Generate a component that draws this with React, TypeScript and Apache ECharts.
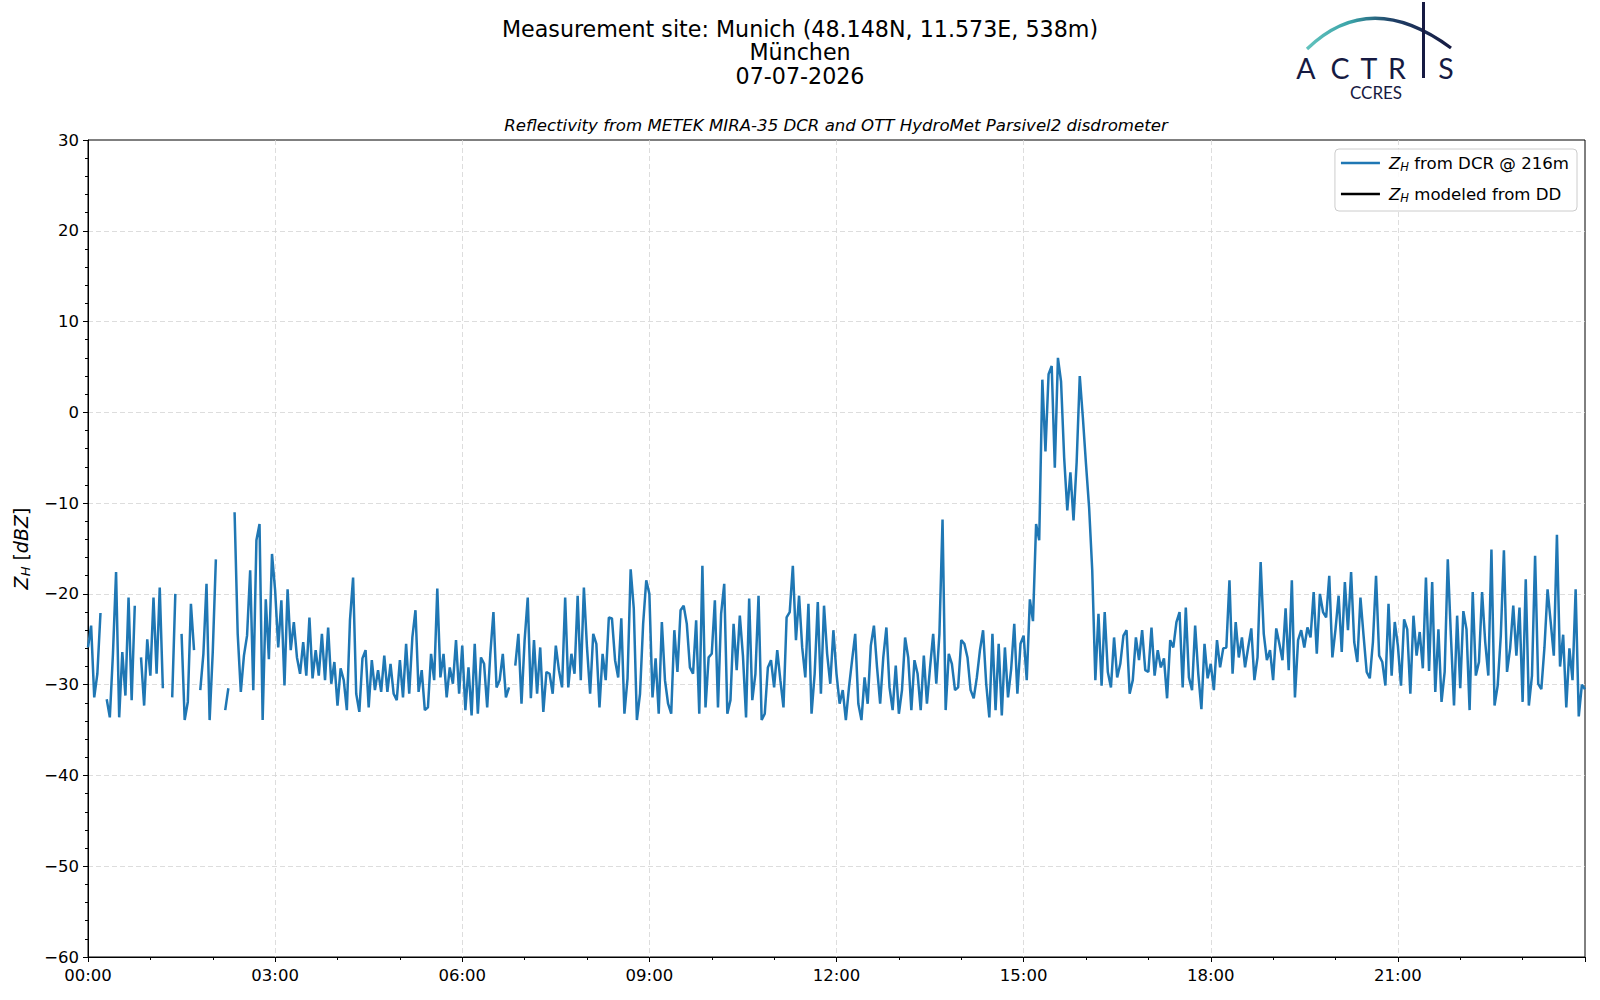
import React, { useEffect, useRef } from "react";
import * as echarts from "echarts";

// ---- data (3-minute sampling, hours since 00:00 UTC) ----
const STEP_HOURS = 0.05;

const titleLines = ["Measurement site: Munich (48.148N, 11.573E, 538m)", "München", "07-07-2026"];
const subTitle = "Reflectivity from METEK MIRA-35 DCR and OTT HydroMet Parsivel2 disdrometer";
const seriesNames = ["ZH from DCR @ 216m", "ZH modeled from DD"];
const legendLabels = ["{g| }{z|Z}{s|H}{t| from DCR @ 216m}", "{g| }{z|Z}{s|H}{t| modeled from DD}"];
const xTickHours = [0, 3, 6, 9, 12, 15, 18, 21];

// Z_H from DCR, 00:00 - 06:00
const zhDcr00to06: (number | null)[] = [
  -25.9, -23.5, -31.4, -28.8, -22.1, null, -31.6, -33.6, -26.6, -17.6, -33.6, -26.4, -31.2, -20.4, -31.7, -21.3, null, -27.0, -32.3, -25.0,
  -29.0, -20.4, -28.8, -19.3, -30.4, null, null, -31.4, -20.0, null, -24.4, -33.9, -31.9, -21.1, -26.2, null, -30.6, -26.6, -18.9, -33.9,
  -26.4, -16.2, null, null, -32.8, -30.4, null, -11.0, -24.4, -30.8, -26.8, -24.6, -17.4, -30.6, -14.1, -12.3, -33.9, -20.6, -27.2, -15.6,
  -19.6, -25.9, -20.7, -30.1, -19.5, -26.2, -23.1, -27.0, -28.8, -25.3, -29.0, -22.6, -29.3, -26.2, -29.0, -24.4, -29.5, -23.7, -29.9, -27.5,
  -32.3, -28.2, -29.5, -32.8, -22.9, -18.2, -31.0, -33.0, -27.1, -26.2, -32.5, -27.3, -30.6, -28.4, -30.8, -26.8, -30.8, -27.7, -31.0, -31.7,
  -27.3, -31.4, -25.5, -31.0, -24.8, -21.8, -30.8, -28.4, -32.8, -32.5, -26.6, -29.5, -19.4, -29.2, -26.6, -31.4, -28.1, -29.9, -25.1, -31.0,
];

// Z_H from DCR, 06:00 - 12:00
const zhDcr06to12: (number | null)[] = [
  -25.7, -32.8, -28.1, -33.4, -25.5, -33.2, -27.0, -27.7, -32.5, -26.6, -22.0, -30.3, -29.5, -26.6, -31.4, -30.3, null, -27.9, -24.4, -32.1,
  -25.1, -20.4, -31.5, -25.1, -31.0, -25.9, -33.0, -28.6, -28.8, -31.0, -25.7, -28.4, -30.3, -20.4, -30.3, -26.6, -28.8, -20.2, -29.5, -19.3,
  -25.9, -31.0, -24.4, -25.5, -32.5, -26.6, -29.5, -22.6, -22.7, -27.3, -29.2, -22.7, -33.2, -29.3, -17.3, -21.6, -33.9, -31.0, -23.3, -18.5,
  -20.0, -31.4, -27.1, -33.2, -23.1, -29.5, -32.1, -33.2, -24.0, -28.6, -21.8, -21.3, -23.3, -28.1, -28.8, -22.9, -33.2, -16.9, -32.5, -27.0,
  -26.6, -20.7, -32.5, -22.2, -18.9, -33.2, -31.7, -23.3, -28.4, -22.4, -26.8, -33.6, -20.5, -31.7, -28.8, -20.2, -33.9, -33.2, -28.1, -27.3,
  -30.3, -26.2, -29.5, -32.5, -22.6, -22.0, -16.9, -25.1, -20.2, -25.9, -29.2, -21.1, -33.2, -28.8, -20.9, -31.0, -21.3, -26.6, -29.9, -24.0,
];

// Z_H from DCR, 12:00 - 18:00
const zhDcr12to18: (number | null)[] = [
  -28.8, -32.1, -30.6, -33.9, -30.3, -27.3, -24.4, -32.1, -33.9, -29.2, -32.1, -25.7, -23.5, -28.1, -32.1, -27.0, -23.7, -30.3, -32.8, -27.9,
  -33.2, -30.6, -24.8, -27.0, -32.8, -27.3, -28.8, -32.8, -26.8, -32.1, -28.1, -24.4, -29.9, -24.4, -11.8, -32.8, -26.6, -27.7, -30.6, -30.3,
  -25.1, -25.5, -27.0, -30.6, -31.5, -29.2, -26.2, -24.0, -29.9, -33.6, -24.4, -32.8, -25.5, -33.4, -25.9, -31.4, -28.3, -23.3, -31.0, -25.5,
  -24.6, -29.5, -20.6, -23.0, -12.3, -14.1, 3.6, -4.3, 4.2, 5.1, -6.1, 6.0, 3.4, -5.0, -10.8, -6.6, -11.9, -5.5, 4.0, -0.6,
  -5.7, -10.5, -17.4, -29.5, -22.2, -30.1, -22.0, -28.6, -30.3, -24.8, -29.2, -27.7, -24.6, -24.0, -31.0, -29.5, -24.8, -27.3, -24.0, -28.4,
  -28.6, -23.7, -29.0, -26.2, -28.1, -27.1, -31.5, -25.1, -25.9, -23.1, -22.0, -30.3, -21.5, -29.2, -30.6, -23.5, -28.8, -32.7, -25.5, -29.3,
];

// Z_H from DCR, 18:00 - 24:00
const zhDcr18to24: (number | null)[] = [
  -27.7, -30.6, -25.1, -28.1, -26.0, -25.9, -18.5, -28.8, -23.1, -27.0, -24.8, -28.1, -25.9, -23.8, -29.5, -27.0, -16.5, -24.4, -27.3, -26.2,
  -29.5, -23.8, -25.5, -27.3, -21.6, -28.4, -18.5, -31.4, -25.1, -24.0, -25.9, -23.7, -24.8, -19.8, -26.6, -20.0, -22.0, -22.6, -18.0, -27.0,
  -23.9, -20.2, -26.4, -18.7, -24.0, -17.6, -25.3, -27.5, -20.4, -24.6, -28.6, -29.3, -25.3, -18.0, -26.8, -27.5, -30.1, -21.1, -29.0, -23.1,
  -25.7, -30.1, -22.8, -23.9, -31.0, -22.4, -26.8, -24.2, -28.2, -18.2, -28.5, -18.7, -30.8, -23.9, -31.9, -28.6, -16.2, -24.6, -32.3, -22.4,
  -30.4, -21.9, -23.9, -32.8, -19.8, -29.0, -27.5, -19.8, -25.3, -29.0, -15.1, -32.3, -30.1, -24.6, -15.2, -28.6, -26.0, -21.3, -26.8, -21.5,
  -31.9, -18.4, -32.3, -29.0, -15.8, -29.9, -30.5, -25.9, -19.5, -23.1, -26.8, -13.5, -28.0, -24.5, -32.5, -26.0, -29.5, -19.5, -33.5, -30.0,
  -30.5,
];

// Z_H modeled from disdrometer: no valid data on this day
const zhModeledDd: [number, number][] = [];

const FONT = "DejaVu Sans";

function fmtTick(v: number): string {
  if (v < 0) return "\u2212" + Math.abs(v);
  return String(v);
}

export default function App() {
  const ref = useRef<HTMLDivElement>(null);
  useEffect(() => {
    if (!ref.current) return;
    const chart = echarts.init(ref.current, undefined, { renderer: "svg" });
    const values = [...zhDcr00to06, ...zhDcr06to12, ...zhDcr12to18, ...zhDcr18to24];
    const dcrData = values.map((v, i) => [Math.round(i * STEP_HOURS * 1000) / 1000, v === null ? "-" : v]);

    const navy = "#161a42";
    const logoLetters = [
      { ch: "A", x: 1306 },
      { ch: "C", x: 1340 },
      { ch: "T", x: 1369 },
      { ch: "R", x: 1397 },
      { ch: "S", x: 1446 },
    ];

    const gridLine = { show: true, showMinLine: false, showMaxLine: false, lineStyle: { color: "#d4d4d4", type: [5, 3], width: 0.8 } };

    const option: any = {
      animation: false,
      backgroundColor: "#ffffff",
      textStyle: { fontFamily: FONT },
      title: [
        {
          text: titleLines.join("\n"),
          left: "center",
          top: 17,
          padding: 0,
          textStyle: { fontSize: 22.2, fontWeight: "normal", color: "#000", lineHeight: 23.5, fontFamily: FONT },
        },
        {
          text: subTitle,
          left: 836,
          textAlign: "center",
          top: 116,
          padding: 0,
          textStyle: { fontSize: 16.6, fontWeight: "normal", fontStyle: "italic", color: "#000", lineHeight: 19, fontFamily: FONT },
        },
      ],
      grid: {
        left: 88,
        right: 15,
        top: 140,
        bottom: 43,
        show: true,
        borderColor: "#000",
        borderWidth: 1,
        backgroundColor: "transparent",
      },
      legend: {
        orient: "vertical",
        right: 23,
        top: 149,
        padding: [4, 8, 7, 6],
        itemWidth: 39,
        itemHeight: 2.5,
        itemGap: 11,
        icon: "rect",
        selectedMode: false,
        borderColor: "#cccccc",
        borderWidth: 1,
        borderRadius: 4,
        backgroundColor: "rgba(255,255,255,0.85)",
        data: seriesNames,
        formatter: (name: string) => legendLabels[seriesNames.indexOf(name)],
        textStyle: {
          fontSize: 16.6,
          color: "#000",
          lineHeight: 20,
          fontFamily: FONT,
          rich: {
            g: { fontSize: 8, width: 4, lineHeight: 20 },
            z: { fontSize: 16.6, fontStyle: "italic", fontFamily: FONT, color: "#000", lineHeight: 20 },
            s: { fontSize: 11.5, fontStyle: "italic", fontFamily: FONT, color: "#000", lineHeight: 13, verticalAlign: "bottom" },
            t: { fontSize: 16.6, fontFamily: FONT, color: "#000", lineHeight: 20 },
          },
        },
      },
      xAxis: {
        type: "value",
        min: 0,
        max: 24,
        interval: 3,
        axisLine: { show: true, onZero: false, lineStyle: { color: "#000", width: 1 } },
        axisTick: { show: true, length: 5, lineStyle: { color: "#000", width: 1 } },
        minorTick: { show: true, splitNumber: 3, length: 3, lineStyle: { color: "#000", width: 1 } },
        axisLabel: {
          fontSize: 16.5,
          color: "#000",
          margin: 10,
          fontFamily: FONT,
          formatter: (v: number) => (xTickHours.indexOf(v) >= 0 ? String(v).padStart(2, "0") + ":00" : ""),
        },
        splitLine: gridLine,
      },
      yAxis: {
        type: "value",
        min: -60,
        max: 30,
        interval: 10,
        name: "{z|Z}{s|H}{b| [}{i|dBZ}{b|]}",
        nameLocation: "middle",
        nameGap: 56,
        nameTextStyle: {
          fontSize: 19,
          color: "#000",
          fontFamily: FONT,
          rich: {
            z: { fontSize: 19, fontStyle: "italic", fontFamily: FONT, color: "#000", lineHeight: 23 },
            s: { fontSize: 13, fontStyle: "italic", fontFamily: FONT, color: "#000", lineHeight: 15, verticalAlign: "bottom" },
            b: { fontSize: 19, fontFamily: FONT, color: "#000", lineHeight: 23 },
            i: { fontSize: 19, fontStyle: "italic", fontFamily: FONT, color: "#000", lineHeight: 23 },
          },
        },
        axisLine: { show: true, onZero: false, lineStyle: { color: "#000", width: 1 } },
        axisTick: { show: true, length: 5, lineStyle: { color: "#000", width: 1 } },
        minorTick: { show: true, splitNumber: 5, length: 3, lineStyle: { color: "#000", width: 1 } },
        axisLabel: { fontSize: 16.5, color: "#000", margin: 9, fontFamily: FONT, formatter: (v: number) => fmtTick(v) },
        splitLine: gridLine,
      },
      series: [
        {
          name: seriesNames[0],
          type: "line",
          data: dcrData,
          symbol: "none",
          showSymbol: false,
          connectNulls: false,
          lineStyle: { color: "#1f77b4", width: 2.5 },
          itemStyle: { color: "#1f77b4" },
          z: 3,
        },
        {
          name: seriesNames[1],
          type: "line",
          data: zhModeledDd,
          symbol: "none",
          showSymbol: false,
          lineStyle: { color: "#000000", width: 2 },
          itemStyle: { color: "#000000" },
        },
      ],
      graphic: [
        {
          type: "bezierCurve",
          silent: true,
          shape: { x1: 1307, y1: 49, x2: 1451, y2: 48, cpx1: 1370, cpy1: -12 },
          style: {
            fill: null,
            lineWidth: 3.2,
            stroke: new echarts.graphic.LinearGradient(0, 0, 1, 0, [
              { offset: 0, color: "#62c2bd" },
              { offset: 0.3, color: "#3aa3a8" },
              { offset: 0.6, color: "#1f3f66" },
              { offset: 1, color: navy },
            ]),
          },
        },
        {
          type: "line",
          silent: true,
          shape: { x1: 1423.5, y1: 2, x2: 1423.5, y2: 78 },
          style: { stroke: navy, lineWidth: 3 },
        },
        ...logoLetters.map((l) => ({
          type: "text",
          silent: true,
          x: l.x,
          y: 67.5,
          style: {
            text: l.ch,
            fontSize: 28.5,
            fontFamily: "Lato",
            fill: navy,
            align: "center",
            verticalAlign: "middle",
          },
        })),
        {
          type: "text",
          silent: true,
          x: 1376,
          y: 92,
          style: {
            text: "CCRES",
            fontSize: 17,
            fontFamily: "Lato",
            fill: navy,
            align: "center",
            verticalAlign: "middle",
          },
        },
      ],
    };
    chart.setOption(option);
    return () => chart.dispose();
  }, []);

  return (
    <div
      ref={ref}
      style={{ position: "absolute", left: 0, top: 0, width: 1600, height: 1000, background: "#fff" }}
    />
  );
}
